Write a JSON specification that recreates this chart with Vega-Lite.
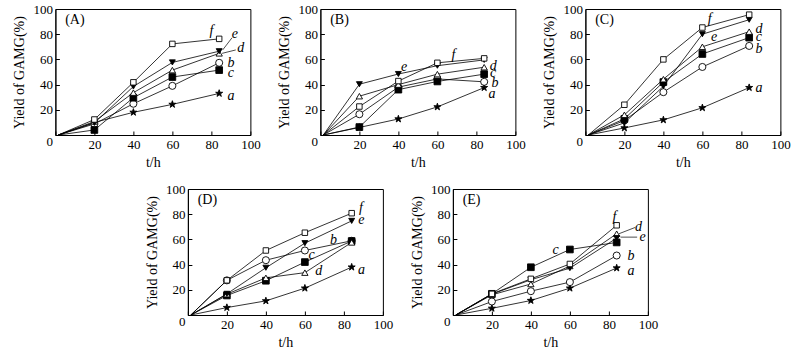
{
 "$schema": "https://vega.github.io/schema/vega-lite/v6.json",
 "background": "white",
 "padding": {"left": 12, "top": 2, "right": 0, "bottom": 0},
 "datasets": {
  "pts": [
   {"p":"A","s":"a","t":1.5,"y":0},{"p":"A","s":"a","t":20,"y":10},{"p":"A","s":"a","t":40,"y":18},{"p":"A","s":"a","t":60,"y":24.3},{"p":"A","s":"a","t":84,"y":33},
   {"p":"A","s":"b","t":1.5,"y":0},{"p":"A","s":"b","t":20,"y":8.8},{"p":"A","s":"b","t":40,"y":24.8},{"p":"A","s":"b","t":60,"y":39},{"p":"A","s":"b","t":84,"y":57.3},
   {"p":"A","s":"c","t":1.5,"y":0},{"p":"A","s":"c","t":20,"y":4},{"p":"A","s":"c","t":40,"y":29.6},{"p":"A","s":"c","t":60,"y":46},{"p":"A","s":"c","t":84,"y":51.5},
   {"p":"A","s":"d","t":1.5,"y":0},{"p":"A","s":"d","t":20,"y":10.7},{"p":"A","s":"d","t":40,"y":33.6},{"p":"A","s":"d","t":60,"y":51.5},{"p":"A","s":"d","t":84,"y":64.8},
   {"p":"A","s":"e","t":1.5,"y":0},{"p":"A","s":"e","t":20,"y":9.6},{"p":"A","s":"e","t":40,"y":38.5},{"p":"A","s":"e","t":60,"y":57.6},{"p":"A","s":"e","t":84,"y":66.5},
   {"p":"A","s":"f","t":1.5,"y":0},{"p":"A","s":"f","t":20,"y":12.3},{"p":"A","s":"f","t":40,"y":41.8},{"p":"A","s":"f","t":60,"y":72.3},{"p":"A","s":"f","t":84,"y":76.3},
   {"p":"B","s":"a","t":1.5,"y":0},{"p":"B","s":"a","t":20,"y":6},{"p":"B","s":"a","t":40,"y":12.7},{"p":"B","s":"a","t":60,"y":22.3},{"p":"B","s":"a","t":84,"y":37.6},
   {"p":"B","s":"b","t":1.5,"y":0},{"p":"B","s":"b","t":20,"y":16.5},{"p":"B","s":"b","t":40,"y":38},{"p":"B","s":"b","t":60,"y":44.5},{"p":"B","s":"b","t":84,"y":42.2},
   {"p":"B","s":"c","t":1.5,"y":0},{"p":"B","s":"c","t":20,"y":6.3},{"p":"B","s":"c","t":40,"y":36},{"p":"B","s":"c","t":60,"y":42.5},{"p":"B","s":"c","t":84,"y":48.3},
   {"p":"B","s":"d","t":1.5,"y":0},{"p":"B","s":"d","t":20,"y":30.8},{"p":"B","s":"d","t":40,"y":40},{"p":"B","s":"d","t":60,"y":48.3},{"p":"B","s":"d","t":84,"y":53.8},
   {"p":"B","s":"e","t":1.5,"y":0},{"p":"B","s":"e","t":20,"y":40.3},{"p":"B","s":"e","t":40,"y":48.4},{"p":"B","s":"e","t":60,"y":55},{"p":"B","s":"e","t":84,"y":59.6},
   {"p":"B","s":"f","t":1.5,"y":0},{"p":"B","s":"f","t":20,"y":22.6},{"p":"B","s":"f","t":40,"y":42.8},{"p":"B","s":"f","t":60,"y":57.3},{"p":"B","s":"f","t":84,"y":60.8},
   {"p":"C","s":"a","t":1.5,"y":0},{"p":"C","s":"a","t":20,"y":5.6},{"p":"C","s":"a","t":40,"y":12},{"p":"C","s":"a","t":60,"y":21.6},{"p":"C","s":"a","t":84,"y":37.6},
   {"p":"C","s":"b","t":1.5,"y":0},{"p":"C","s":"b","t":20,"y":11.5},{"p":"C","s":"b","t":40,"y":34},{"p":"C","s":"b","t":60,"y":54},{"p":"C","s":"b","t":84,"y":70.7},
   {"p":"C","s":"c","t":1.5,"y":0},{"p":"C","s":"c","t":20,"y":12.8},{"p":"C","s":"c","t":40,"y":42},{"p":"C","s":"c","t":60,"y":64.3},{"p":"C","s":"c","t":84,"y":77.3},
   {"p":"C","s":"d","t":1.5,"y":0},{"p":"C","s":"d","t":20,"y":16},{"p":"C","s":"d","t":40,"y":44.3},{"p":"C","s":"d","t":60,"y":70},{"p":"C","s":"d","t":84,"y":82},
   {"p":"C","s":"e","t":1.5,"y":0},{"p":"C","s":"e","t":20,"y":9.6},{"p":"C","s":"e","t":40,"y":38.7},{"p":"C","s":"e","t":60,"y":80},{"p":"C","s":"e","t":84,"y":91.5},
   {"p":"C","s":"f","t":1.5,"y":0},{"p":"C","s":"f","t":20,"y":24},{"p":"C","s":"f","t":40,"y":60},{"p":"C","s":"f","t":60,"y":85.3},{"p":"C","s":"f","t":84,"y":95.5},
   {"p":"D","s":"a","t":1.5,"y":0},{"p":"D","s":"a","t":20,"y":5.9},{"p":"D","s":"a","t":40,"y":11.2},{"p":"D","s":"a","t":60,"y":21.3},{"p":"D","s":"a","t":84,"y":38},
   {"p":"D","s":"b","t":1.5,"y":0},{"p":"D","s":"b","t":20,"y":27.5},{"p":"D","s":"b","t":40,"y":43.5},{"p":"D","s":"b","t":60,"y":51.2},{"p":"D","s":"b","t":84,"y":58.9},
   {"p":"D","s":"c","t":1.5,"y":0},{"p":"D","s":"c","t":20,"y":15.5},{"p":"D","s":"c","t":40,"y":27.2},{"p":"D","s":"c","t":60,"y":42},{"p":"D","s":"c","t":84,"y":58.7},
   {"p":"D","s":"d","t":1.5,"y":0},{"p":"D","s":"d","t":20,"y":16.5},{"p":"D","s":"d","t":40,"y":29.5},{"p":"D","s":"d","t":60,"y":33.6},{"p":"D","s":"d","t":84,"y":57.6},
   {"p":"D","s":"e","t":1.5,"y":0},{"p":"D","s":"e","t":20,"y":16.8},{"p":"D","s":"e","t":40,"y":37.5},{"p":"D","s":"e","t":60,"y":57},{"p":"D","s":"e","t":84,"y":74.7},
   {"p":"D","s":"f","t":1.5,"y":0},{"p":"D","s":"f","t":20,"y":27.5},{"p":"D","s":"f","t":40,"y":51.2},{"p":"D","s":"f","t":60,"y":65.3},{"p":"D","s":"f","t":84,"y":80.8},
   {"p":"E","s":"a","t":1.5,"y":0},{"p":"E","s":"a","t":20,"y":5.3},{"p":"E","s":"a","t":40,"y":11.5},{"p":"E","s":"a","t":60,"y":21.3},{"p":"E","s":"a","t":84,"y":37.3},
   {"p":"E","s":"b","t":1.5,"y":0},{"p":"E","s":"b","t":20,"y":10.7},{"p":"E","s":"b","t":40,"y":18.9},{"p":"E","s":"b","t":60,"y":26.1},{"p":"E","s":"b","t":84,"y":47.2},
   {"p":"E","s":"c","t":1.5,"y":0},{"p":"E","s":"c","t":20,"y":16.8},{"p":"E","s":"c","t":40,"y":37.9},{"p":"E","s":"c","t":60,"y":52},{"p":"E","s":"c","t":84,"y":57.6},
   {"p":"E","s":"d","t":1.5,"y":0},{"p":"E","s":"d","t":20,"y":16},{"p":"E","s":"d","t":40,"y":24.6},{"p":"E","s":"d","t":60,"y":38.9},{"p":"E","s":"d","t":84,"y":64.5},
   {"p":"E","s":"e","t":1.5,"y":0},{"p":"E","s":"e","t":20,"y":16.5},{"p":"E","s":"e","t":40,"y":28},{"p":"E","s":"e","t":60,"y":37.2},{"p":"E","s":"e","t":84,"y":61},
   {"p":"E","s":"f","t":1.5,"y":0},{"p":"E","s":"f","t":20,"y":16.8},{"p":"E","s":"f","t":40,"y":28.7},{"p":"E","s":"f","t":60,"y":40.5},{"p":"E","s":"f","t":84,"y":71.2}
  ],
  "lab": [
   {"p":"A","s":"f","t":80,"y":82.7},{"p":"A","s":"e","t":92,"y":80.5},{"p":"A","s":"d","t":95,"y":69},{"p":"A","s":"b","t":90,"y":57.5},{"p":"A","s":"c","t":90,"y":49},{"p":"A","s":"a","t":90,"y":31},
   {"p":"B","s":"f","t":68.3,"y":63.5},{"p":"B","s":"e","t":43,"y":54},{"p":"B","s":"d","t":88.6,"y":55},{"p":"B","s":"c","t":88.6,"y":49.5},{"p":"B","s":"b","t":89.5,"y":41.6},{"p":"B","s":"a","t":88,"y":32.8},
   {"p":"C","s":"f","t":63.7,"y":92.3},{"p":"C","s":"e","t":66,"y":77.6},{"p":"C","s":"d","t":89,"y":84.3},{"p":"C","s":"c","t":89,"y":77.6},{"p":"C","s":"b","t":89,"y":68.3},{"p":"C","s":"a","t":89,"y":37.6},
   {"p":"D","s":"f","t":88.8,"y":84.8},{"p":"D","s":"e","t":89,"y":75.5},{"p":"D","s":"b","t":74.7,"y":59.2},{"p":"D","s":"c","t":63.4,"y":47.5},{"p":"D","s":"d","t":67.1,"y":35.2},{"p":"D","s":"a","t":89,"y":36},
   {"p":"E","s":"f","t":82.8,"y":78},{"p":"E","s":"d","t":95.2,"y":70},{"p":"E","s":"e","t":97.3,"y":62},{"p":"E","s":"c","t":52.7,"y":51.6},{"p":"E","s":"b","t":91.3,"y":47},{"p":"E","s":"a","t":91.3,"y":35}
  ],
  "ttl": [
   {"p":"A","txt":"(A)","t":5,"y":91.5},{"p":"B","txt":"(B)","t":5,"y":91.5},{"p":"C","txt":"(C)","t":5,"y":91.5},{"p":"D","txt":"(D)","t":5,"y":91.5},{"p":"E","txt":"(E)","t":5,"y":91.5}
  ],
  "ldr": [
   {"p":"A","t":85.8,"y":67.5,"t2":90.6,"y2":77.2},
   {"p":"A","t":85.5,"y":64.8,"t2":92.5,"y2":67.5},
   {"p":"E","t":86,"y":61.8,"t2":94.5,"y2":61.8},
   {"p":"E","t":85.2,"y":64.5,"t2":93.5,"y2":69.5}
  ]
 },
 "vconcat": [
  {"hconcat": [
   {"width":195,"height":126,
    "encoding":{"x":{"field":"t","type":"quantitative","title":"t/h","scale":{"domain":[0,100],"nice":false},"axis":{"values":[0,20,40,60,80,100],"labelExpr":"datum.value==0?'':datum.label","grid":false,"domainColor":"black","tickColor":"black","tickSize":-4,"labelPadding":7,"labelFont":"Liberation Serif","labelFontSize":13,"labelColor":"black","labelFlush":false,"labelOverlap":false,"titleFont":"Liberation Serif","titleFontSize":14,"titleFontWeight":"normal","titleColor":"black","titlePadding":4}},
      "y":{"field":"y","type":"quantitative","title":"Yield of GAMG(%)","scale":{"domain":[0,100],"nice":false},"axis":{"values":[0,20,40,60,80,100],"labelBaseline":{"condition":{"test":"datum.value==0","value":"top"},"value":"middle"},"grid":false,"domainColor":"black","tickColor":"black","tickSize":-4,"labelPadding":7,"labelFont":"Liberation Serif","labelFontSize":13,"labelColor":"black","labelFlush":false,"labelOverlap":false,"titleFont":"Liberation Serif","titleFontSize":14,"titleFontWeight":"normal","titleColor":"black","titlePadding":6}}},
    "layer":[
    {"data":{"name":"pts"},"transform":[{"filter":"datum.p=='A'"}],"mark":{"type":"line","color":"black","strokeWidth":0.8},"encoding":{"detail":{"field":"s"},"order":{"field":"t"}}},
    {"data":{"name":"pts"},"transform":[{"filter":"datum.p=='A' && datum.t>2"}],"mark":{"type":"point","stroke":"black","strokeWidth":0.9,"opacity":1,"fillOpacity":1},
     "encoding":{
      "shape":{"field":"s","legend":null,"scale":{"domain":["a","b","c","d","e","f"],"range":["M0,-1L0.2245,-0.309L0.951,-0.309L0.363,0.118L0.588,0.809L0,0.382L-0.588,0.809L-0.363,0.118L-0.951,-0.309L-0.2245,-0.309Z","circle","square","triangle-up","triangle-down","square"]}},
      "fill":{"field":"s","legend":null,"scale":{"domain":["a","b","c","d","e","f"],"range":["black","white","black","white","black","white"]}},
      "size":{"field":"s","legend":null,"scale":{"domain":["a","b","c","d","e","f"],"range":[55,30,28,34,34,30]}}}},
    {"data":{"name":"lab"},"transform":[{"filter":"datum.p=='A'"}],"mark":{"type":"text","font":"Liberation Serif","fontStyle":"italic","fontSize":14,"color":"black"},"encoding":{"text":{"field":"s"}}},
    {"data":{"name":"ttl"},"transform":[{"filter":"datum.p=='A'"}],"mark":{"type":"text","align":"left","font":"Liberation Serif","fontSize":14,"color":"black"},"encoding":{"text":{"field":"txt"}}},
    {"data":{"name":"ldr"},"transform":[{"filter":"datum.p=='A'"}],"mark":{"type":"rule","color":"black","strokeWidth":0.7},"encoding":{"x2":{"field":"t2"},"y2":{"field":"y2"}}}
   ]},
   {"width":195,"height":126,
    "encoding":{"x":{"field":"t","type":"quantitative","title":"t/h","scale":{"domain":[0,100],"nice":false},"axis":{"values":[0,20,40,60,80,100],"labelExpr":"datum.value==0?'':datum.label","grid":false,"domainColor":"black","tickColor":"black","tickSize":-4,"labelPadding":7,"labelFont":"Liberation Serif","labelFontSize":13,"labelColor":"black","labelFlush":false,"labelOverlap":false,"titleFont":"Liberation Serif","titleFontSize":14,"titleFontWeight":"normal","titleColor":"black","titlePadding":4}},
      "y":{"field":"y","type":"quantitative","title":"Yield of GAMG(%)","scale":{"domain":[0,100],"nice":false},"axis":{"values":[0,20,40,60,80,100],"labelBaseline":{"condition":{"test":"datum.value==0","value":"top"},"value":"middle"},"grid":false,"domainColor":"black","tickColor":"black","tickSize":-4,"labelPadding":7,"labelFont":"Liberation Serif","labelFontSize":13,"labelColor":"black","labelFlush":false,"labelOverlap":false,"titleFont":"Liberation Serif","titleFontSize":14,"titleFontWeight":"normal","titleColor":"black","titlePadding":6}}},
    "layer":[
    {"data":{"name":"pts"},"transform":[{"filter":"datum.p=='B'"}],"mark":{"type":"line","color":"black","strokeWidth":0.8},"encoding":{"detail":{"field":"s"},"order":{"field":"t"}}},
    {"data":{"name":"pts"},"transform":[{"filter":"datum.p=='B' && datum.t>2"}],"mark":{"type":"point","stroke":"black","strokeWidth":0.9,"opacity":1,"fillOpacity":1},
     "encoding":{
      "shape":{"field":"s","legend":null,"scale":{"domain":["a","b","c","d","e","f"],"range":["M0,-1L0.2245,-0.309L0.951,-0.309L0.363,0.118L0.588,0.809L0,0.382L-0.588,0.809L-0.363,0.118L-0.951,-0.309L-0.2245,-0.309Z","circle","square","triangle-up","triangle-down","square"]}},
      "fill":{"field":"s","legend":null,"scale":{"domain":["a","b","c","d","e","f"],"range":["black","white","black","white","black","white"]}},
      "size":{"field":"s","legend":null,"scale":{"domain":["a","b","c","d","e","f"],"range":[55,30,28,34,34,30]}}}},
    {"data":{"name":"lab"},"transform":[{"filter":"datum.p=='B'"}],"mark":{"type":"text","font":"Liberation Serif","fontStyle":"italic","fontSize":14,"color":"black"},"encoding":{"text":{"field":"s"}}},
    {"data":{"name":"ttl"},"transform":[{"filter":"datum.p=='B'"}],"mark":{"type":"text","align":"left","font":"Liberation Serif","fontSize":14,"color":"black"},"encoding":{"text":{"field":"txt"}}}
   ]},
   {"width":195,"height":126,
    "encoding":{"x":{"field":"t","type":"quantitative","title":"t/h","scale":{"domain":[0,100],"nice":false},"axis":{"values":[0,20,40,60,80,100],"labelExpr":"datum.value==0?'':datum.label","grid":false,"domainColor":"black","tickColor":"black","tickSize":-4,"labelPadding":7,"labelFont":"Liberation Serif","labelFontSize":13,"labelColor":"black","labelFlush":false,"labelOverlap":false,"titleFont":"Liberation Serif","titleFontSize":14,"titleFontWeight":"normal","titleColor":"black","titlePadding":4}},
      "y":{"field":"y","type":"quantitative","title":"Yield of GAMG(%)","scale":{"domain":[0,100],"nice":false},"axis":{"values":[0,20,40,60,80,100],"labelBaseline":{"condition":{"test":"datum.value==0","value":"top"},"value":"middle"},"grid":false,"domainColor":"black","tickColor":"black","tickSize":-4,"labelPadding":7,"labelFont":"Liberation Serif","labelFontSize":13,"labelColor":"black","labelFlush":false,"labelOverlap":false,"titleFont":"Liberation Serif","titleFontSize":14,"titleFontWeight":"normal","titleColor":"black","titlePadding":6}}},
    "layer":[
    {"data":{"name":"pts"},"transform":[{"filter":"datum.p=='C'"}],"mark":{"type":"line","color":"black","strokeWidth":0.8},"encoding":{"detail":{"field":"s"},"order":{"field":"t"}}},
    {"data":{"name":"pts"},"transform":[{"filter":"datum.p=='C' && datum.t>2"}],"mark":{"type":"point","stroke":"black","strokeWidth":0.9,"opacity":1,"fillOpacity":1},
     "encoding":{
      "shape":{"field":"s","legend":null,"scale":{"domain":["a","b","c","d","e","f"],"range":["M0,-1L0.2245,-0.309L0.951,-0.309L0.363,0.118L0.588,0.809L0,0.382L-0.588,0.809L-0.363,0.118L-0.951,-0.309L-0.2245,-0.309Z","circle","square","triangle-up","triangle-down","square"]}},
      "fill":{"field":"s","legend":null,"scale":{"domain":["a","b","c","d","e","f"],"range":["black","white","black","white","black","white"]}},
      "size":{"field":"s","legend":null,"scale":{"domain":["a","b","c","d","e","f"],"range":[55,30,28,34,34,30]}}}},
    {"data":{"name":"lab"},"transform":[{"filter":"datum.p=='C'"}],"mark":{"type":"text","font":"Liberation Serif","fontStyle":"italic","fontSize":14,"color":"black"},"encoding":{"text":{"field":"s"}}},
    {"data":{"name":"ttl"},"transform":[{"filter":"datum.p=='C'"}],"mark":{"type":"text","align":"left","font":"Liberation Serif","fontSize":14,"color":"black"},"encoding":{"text":{"field":"txt"}}}
   ]}
  ], "spacing": 16},
  {"hconcat": [
   {"width":195,"height":126,
    "encoding":{"x":{"field":"t","type":"quantitative","title":"t/h","scale":{"domain":[0,100],"nice":false},"axis":{"values":[0,20,40,60,80,100],"labelExpr":"datum.value==0?'':datum.label","grid":false,"domainColor":"black","tickColor":"black","tickSize":-4,"labelPadding":7,"labelFont":"Liberation Serif","labelFontSize":13,"labelColor":"black","labelFlush":false,"labelOverlap":false,"titleFont":"Liberation Serif","titleFontSize":14,"titleFontWeight":"normal","titleColor":"black","titlePadding":4}},
      "y":{"field":"y","type":"quantitative","title":"Yield of GAMG(%)","scale":{"domain":[0,100],"nice":false},"axis":{"values":[0,20,40,60,80,100],"labelBaseline":{"condition":{"test":"datum.value==0","value":"top"},"value":"middle"},"grid":false,"domainColor":"black","tickColor":"black","tickSize":-4,"labelPadding":7,"labelFont":"Liberation Serif","labelFontSize":13,"labelColor":"black","labelFlush":false,"labelOverlap":false,"titleFont":"Liberation Serif","titleFontSize":14,"titleFontWeight":"normal","titleColor":"black","titlePadding":6}}},
    "layer":[
    {"data":{"name":"pts"},"transform":[{"filter":"datum.p=='D'"}],"mark":{"type":"line","color":"black","strokeWidth":0.8},"encoding":{"detail":{"field":"s"},"order":{"field":"t"}}},
    {"data":{"name":"pts"},"transform":[{"filter":"datum.p=='D' && datum.t>2"}],"mark":{"type":"point","stroke":"black","strokeWidth":0.9,"opacity":1,"fillOpacity":1},
     "encoding":{
      "shape":{"field":"s","legend":null,"scale":{"domain":["a","b","c","d","e","f"],"range":["M0,-1L0.2245,-0.309L0.951,-0.309L0.363,0.118L0.588,0.809L0,0.382L-0.588,0.809L-0.363,0.118L-0.951,-0.309L-0.2245,-0.309Z","circle","square","triangle-up","triangle-down","square"]}},
      "fill":{"field":"s","legend":null,"scale":{"domain":["a","b","c","d","e","f"],"range":["black","white","black","white","black","white"]}},
      "size":{"field":"s","legend":null,"scale":{"domain":["a","b","c","d","e","f"],"range":[55,30,28,34,34,30]}}}},
    {"data":{"name":"lab"},"transform":[{"filter":"datum.p=='D'"}],"mark":{"type":"text","font":"Liberation Serif","fontStyle":"italic","fontSize":14,"color":"black"},"encoding":{"text":{"field":"s"}}},
    {"data":{"name":"ttl"},"transform":[{"filter":"datum.p=='D'"}],"mark":{"type":"text","align":"left","font":"Liberation Serif","fontSize":14,"color":"black"},"encoding":{"text":{"field":"txt"}}}
   ]},
   {"width":195,"height":126,
    "encoding":{"x":{"field":"t","type":"quantitative","title":"t/h","scale":{"domain":[0,100],"nice":false},"axis":{"values":[0,20,40,60,80,100],"labelExpr":"datum.value==0?'':datum.label","grid":false,"domainColor":"black","tickColor":"black","tickSize":-4,"labelPadding":7,"labelFont":"Liberation Serif","labelFontSize":13,"labelColor":"black","labelFlush":false,"labelOverlap":false,"titleFont":"Liberation Serif","titleFontSize":14,"titleFontWeight":"normal","titleColor":"black","titlePadding":4}},
      "y":{"field":"y","type":"quantitative","title":"Yield of GAMG(%)","scale":{"domain":[0,100],"nice":false},"axis":{"values":[0,20,40,60,80,100],"labelBaseline":{"condition":{"test":"datum.value==0","value":"top"},"value":"middle"},"grid":false,"domainColor":"black","tickColor":"black","tickSize":-4,"labelPadding":7,"labelFont":"Liberation Serif","labelFontSize":13,"labelColor":"black","labelFlush":false,"labelOverlap":false,"titleFont":"Liberation Serif","titleFontSize":14,"titleFontWeight":"normal","titleColor":"black","titlePadding":6}}},
    "layer":[
    {"data":{"name":"pts"},"transform":[{"filter":"datum.p=='E'"}],"mark":{"type":"line","color":"black","strokeWidth":0.8},"encoding":{"detail":{"field":"s"},"order":{"field":"t"}}},
    {"data":{"name":"pts"},"transform":[{"filter":"datum.p=='E' && datum.t>2"}],"mark":{"type":"point","stroke":"black","strokeWidth":0.9,"opacity":1,"fillOpacity":1},
     "encoding":{
      "shape":{"field":"s","legend":null,"scale":{"domain":["a","b","c","d","e","f"],"range":["M0,-1L0.2245,-0.309L0.951,-0.309L0.363,0.118L0.588,0.809L0,0.382L-0.588,0.809L-0.363,0.118L-0.951,-0.309L-0.2245,-0.309Z","circle","square","triangle-up","triangle-down","square"]}},
      "fill":{"field":"s","legend":null,"scale":{"domain":["a","b","c","d","e","f"],"range":["black","white","black","white","black","white"]}},
      "size":{"field":"s","legend":null,"scale":{"domain":["a","b","c","d","e","f"],"range":[55,30,28,34,34,30]}}}},
    {"data":{"name":"lab"},"transform":[{"filter":"datum.p=='E'"}],"mark":{"type":"text","font":"Liberation Serif","fontStyle":"italic","fontSize":14,"color":"black"},"encoding":{"text":{"field":"s"}}},
    {"data":{"name":"ttl"},"transform":[{"filter":"datum.p=='E'"}],"mark":{"type":"text","align":"left","font":"Liberation Serif","fontSize":14,"color":"black"},"encoding":{"text":{"field":"txt"}}},
    {"data":{"name":"ldr"},"transform":[{"filter":"datum.p=='E'"}],"mark":{"type":"rule","color":"black","strokeWidth":0.7},"encoding":{"x2":{"field":"t2"},"y2":{"field":"y2"}}}
   ]}
  ], "spacing": 16}
 ],
 "spacing": 12,
 "center": true,
 "config": {
  "font": "Liberation Serif",
  "view": {"stroke": "black", "strokeWidth": 1},
  "axis": {"labelFont": "Liberation Serif", "titleFont": "Liberation Serif", "labelFontSize": 13, "titleFontSize": 14, "titleFontWeight": "normal", "labelOverlap": false}
 }
}
